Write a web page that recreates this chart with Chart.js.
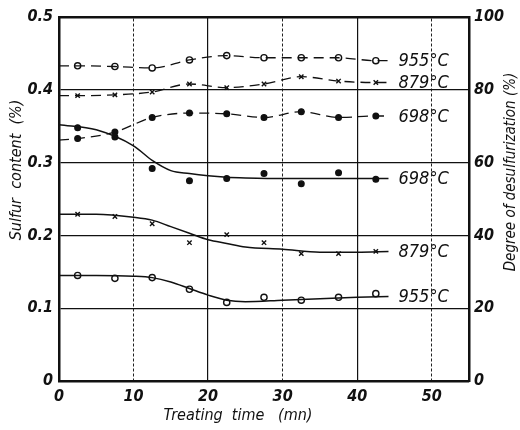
<!DOCTYPE html>
<html lang="en">
<head>
  <meta charset="UTF-8">
  <title>Sulfur content vs treating time</title>
  <script src="https://cdn.jsdelivr.net/npm/chart.js"></script>
  <style>
    html, body { margin: 0; padding: 0; background: #fff; }
    #wrap { width: 520px; height: 430px; }
  </style>
</head>
<body>
  <div id="wrap"><canvas id="chart"></canvas></div>
  <script>
    // sampling times (mn)
    const times = [2.5, 7.5, 12.5, 17.5, 22.5, 27.5, 32.5, 37.5, 42.5];
    // measured sulfur content (%) - solid curves
    const sulfur955 = [0.145, 0.141, 0.142, 0.126, 0.108, 0.115, 0.111, 0.115, 0.120];
    const sulfur879 = [0.229, 0.226, 0.216, 0.190, 0.201, 0.190, 0.175, 0.175, 0.178];
    const sulfur698 = [0.348, 0.335, 0.292, 0.275, 0.278, 0.285, 0.271, 0.286, 0.277];
    // smooth curves drawn through the sulfur points
    const fitTimes = [0, 5, 10, 12.5, 15, 17.5, 20, 22.5, 25, 30, 35, 40, 44.2];
    const fit955 = [0.145, 0.145, 0.144, 0.142, 0.136, 0.127, 0.118, 0.111, 0.109, 0.111, 0.113, 0.115, 0.116];
    const fit879 = [0.229, 0.229, 0.225, 0.221, 0.212, 0.203, 0.194, 0.189, 0.184, 0.181, 0.177, 0.177, 0.178];
    const fit698 = [0.352, 0.345, 0.323, 0.303, 0.289, 0.285, 0.282, 0.280, 0.279, 0.278, 0.278, 0.278, 0.278];
    // degree of desulfurization (%) - dashed curves
    const desulf955 = [86.6, 86.4, 86.0, 88.2, 89.4, 88.8, 88.8, 88.8, 88.0];
    const desulf879 = [78.4, 78.6, 79.4, 81.6, 80.6, 81.6, 83.6, 82.4, 82.0];
    const desulf698 = [66.6, 68.4, 72.4, 73.6, 73.4, 72.4, 74.0, 72.4, 72.8];
    const desulfStart = [86.6, 78.4, 66.2];
    const lineEnd = 44.2;
    // tick values
    const xTicks = [0, 10, 20, 30, 40, 50];
    const sulfurTicks = [0, 0.1, 0.2, 0.3, 0.4, 0.5];
    const desulfTicks = [0, 20, 40, 60, 80, 100];
    const temps = ['955°C', '879°C', '698°C'];

    const FONT = '"DejaVu Sans Condensed", "DejaVu Sans", sans-serif';
    const pts = (xs, ys) => xs.map((x, i) => ({ x: x, y: ys[i] }));
    const dashedPts = (ys, start) =>
      [{ x: 0, y: start }].concat(pts(times, ys), [{ x: lineEnd, y: ys[ys.length - 1] }]);

    function curve(data, axis, dashed, label) {
      return {
        data: data, yAxisID: axis, showLine: true, pointRadius: 0,
        borderColor: '#111', borderWidth: dashed ? 1.3 : 1.5,
        borderDash: dashed ? [10, 6] : [], tension: 0.4,
        cubicInterpolationMode: 'monotone', endLabel: label
      };
    }
    function marks(data, axis, style) {
      const filled = style === 'dot';
      return {
        data: data, yAxisID: axis, showLine: false,
        pointStyle: filled ? 'circle' : style,
        pointRadius: filled ? 2.8 : 3.1,
        pointBorderWidth: 1.4,
        pointBorderColor: '#111',
        pointBackgroundColor: filled ? '#111' : '#fff'
      };
    }

    // labels at the end of the lines, and the rotated axis titles
    const labelPlugin = {
      id: 'labels',
      afterDatasetsDraw(chart) {
        const ctx = chart.ctx;
        ctx.save();
        ctx.fillStyle = '#111';
        ctx.font = 'italic 18px ' + FONT;
        ctx.textBaseline = 'middle';
        chart.data.datasets.forEach((ds, i) => {
          if (!ds.endLabel) return;
          const el = chart.getDatasetMeta(i).data;
          const last = el[el.length - 1];
          ctx.fillText(ds.endLabel, last.x + 10, last.y + 1);
        });
        const area = chart.chartArea;
        ctx.font = 'italic 16px ' + FONT;
        ctx.textAlign = 'center';
        ctx.fillText('Treating  time   (mn)', 238, area.bottom + 35);
        ctx.translate(17, 170);
        ctx.rotate(-Math.PI / 2);
        ctx.fillText('Sulfur  content  (%)', 0, 0);
        ctx.restore();
        ctx.save();
        ctx.fillStyle = '#111';
        ctx.font = 'italic 15px ' + FONT;
        ctx.textAlign = 'center';
        ctx.textBaseline = 'middle';
        ctx.translate(511, 172);
        ctx.rotate(-Math.PI / 2);
        ctx.fillText('Degree of desulfurization (%)', 0, 0);
        ctx.restore();
      }
    };

    const tickFont = { family: FONT, size: 16, style: 'italic', weight: 'bold' };

    new Chart(document.getElementById('chart'), {
      type: 'scatter',
      data: {
        datasets: [
          curve(pts(fitTimes, fit955), 'y', false, temps[0]),
          curve(pts(fitTimes, fit879), 'y', false, temps[1]),
          curve(pts(fitTimes, fit698), 'y', false, temps[2]),
          marks(pts(times, sulfur955), 'y', 'circle'),
          marks(pts(times, sulfur879), 'y', 'crossRot'),
          marks(pts(times, sulfur698), 'y', 'dot'),
          curve(dashedPts(desulf955, desulfStart[0]), 'y2', true, temps[0]),
          curve(dashedPts(desulf879, desulfStart[1]), 'y2', true, temps[1]),
          curve(dashedPts(desulf698, desulfStart[2]), 'y2', true, temps[2]),
          marks(pts(times, desulf955), 'y2', 'circle'),
          marks(pts(times, desulf879), 'y2', 'crossRot'),
          marks(pts(times, desulf698), 'y2', 'dot')
        ]
      },
      options: {
        responsive: true,
        maintainAspectRatio: false,
        animation: false,
        layout: { padding: { top: 17, left: 0, right: 0, bottom: 0 } },
        plugins: { legend: { display: false }, tooltip: { enabled: false } },
        scales: {
          x: {
            type: 'linear', position: 'bottom', min: 0, max: 55,
            afterBuildTicks: s => { s.ticks = xTicks.map(v => ({ value: v })); },
            afterFit: s => { s.height = 49; },
            ticks: { font: tickFont, color: '#111', padding: 6, maxRotation: 0 },
            grid: {
              drawTicks: false, lineWidth: 1.2,
              color: c => (c.tick && (c.tick.value === 20 || c.tick.value === 40)) ? '#111' : 'rgba(0,0,0,0)'
            },
            border: { color: '#111', width: 2.5 }
          },
          x2: {
            type: 'linear', position: 'top', min: 0, max: 55,
            afterBuildTicks: s => { s.ticks = xTicks.map(v => ({ value: v })); },
            afterFit: s => { s.height = 0; },
            ticks: { display: false },
            grid: {
              drawTicks: false, lineWidth: 1,
              color: c => (c.tick && c.tick.value % 20 === 10) ? '#222' : 'rgba(0,0,0,0)'
            },
            border: { color: '#111', width: 2.5, dash: [3, 2] }
          },
          y: {
            position: 'left', min: 0, max: 0.5,
            afterBuildTicks: s => { s.ticks = sulfurTicks.map(v => ({ value: v })); },
            afterFit: s => { s.width = 59; },
            ticks: {
              font: tickFont, color: '#111', padding: 6,
              callback: v => v === 0 ? '0' : v.toFixed(1)
            },
            grid: {
              drawTicks: false, lineWidth: 1.2,
              color: c => (c.tick && c.tick.value > 0 && c.tick.value < 0.5) ? '#111' : 'rgba(0,0,0,0)'
            },
            border: { color: '#111', width: 2.5 }
          },
          y2: {
            position: 'right', min: 0, max: 100,
            afterBuildTicks: s => { s.ticks = desulfTicks.map(v => ({ value: v })); },
            afterFit: s => { s.width = 51; },
            ticks: { font: tickFont, color: '#111', padding: 5 },
            grid: { display: false, drawTicks: false },
            border: { color: '#111', width: 2.5 }
          }
        }
      },
      plugins: [labelPlugin]
    });
  </script>
</body>
</html>
